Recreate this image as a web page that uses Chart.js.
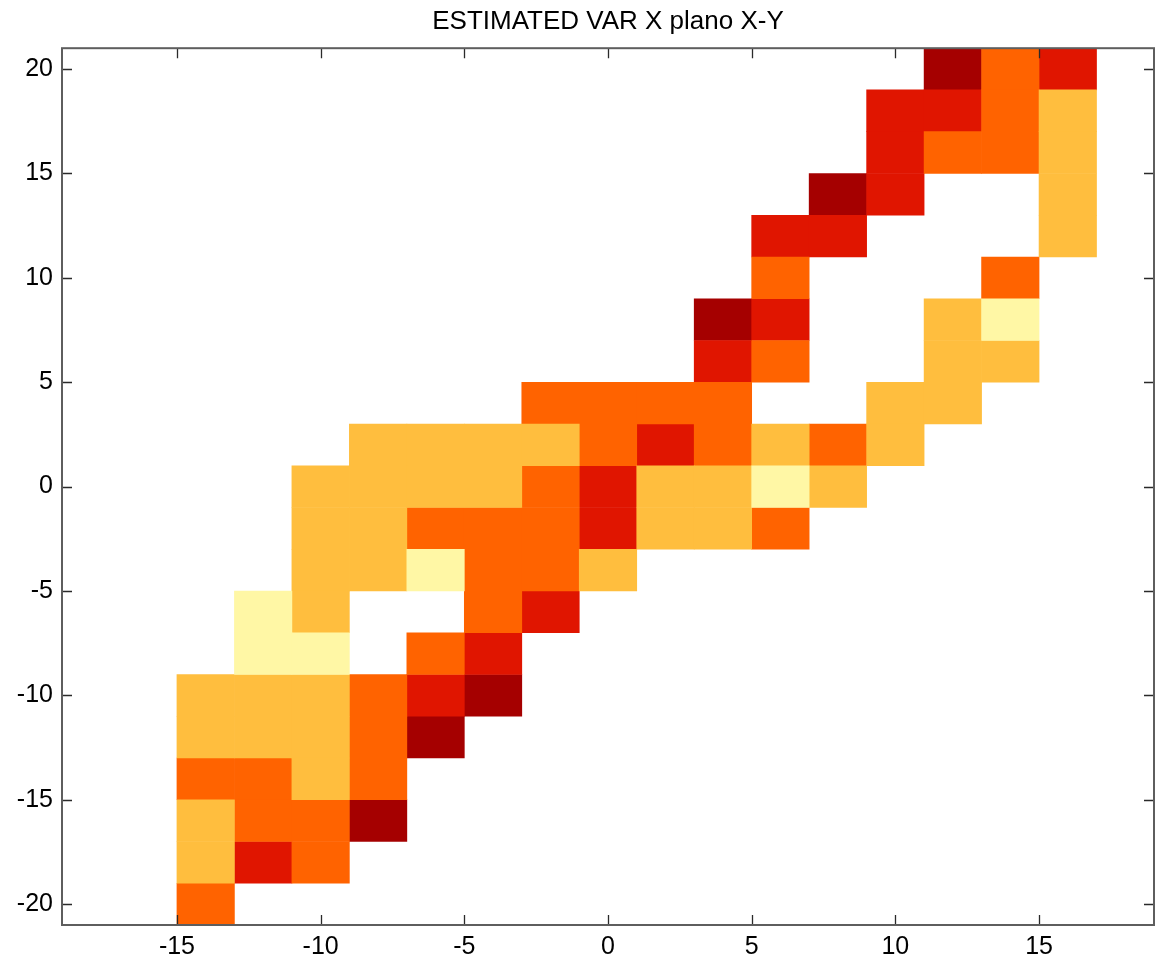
<!DOCTYPE html>
<html>
<head>
<meta charset="utf-8">
<title>ESTIMATED VAR X plano X-Y</title>
<script src="https://cdn.jsdelivr.net/npm/chart.js@4.4.1/dist/chart.umd.min.js"></script>
<style>
  html, body { margin: 0; padding: 0; background: #fff; }
</style>
</head>
<body>
<canvas id="chart" width="1163" height="964"></canvas>
<script>
// cell centres, every cell is 2 x 2 units
const xCenters = [-14, -12, -10, -8, -6, -4, -2, 0, 2, 4, 6, 8, 10, 12, 14, 16];
const yCenters = [20, 18, 16, 14, 12, 10, 8, 6, 4, 2, 0, -2, -4, -6, -8, -10, -12, -14, -16, -18, -20];
const xTicks = [-15, -10, -5, 0, 5, 10, 15];
const yTicks = [-20, -15, -10, -5, 0, 5, 10, 15, 20];

// level of each cell, one row per y centre (top to bottom), 0 = empty
const levels = [
   [0, 0, 0, 0, 0, 0, 0, 0, 0, 0, 0, 0, 0, 5, 3, 4],
   [0, 0, 0, 0, 0, 0, 0, 0, 0, 0, 0, 0, 4, 4, 3, 2],
   [0, 0, 0, 0, 0, 0, 0, 0, 0, 0, 0, 0, 4, 3, 3, 2],
   [0, 0, 0, 0, 0, 0, 0, 0, 0, 0, 0, 5, 4, 0, 0, 2],
   [0, 0, 0, 0, 0, 0, 0, 0, 0, 0, 4, 4, 0, 0, 0, 2],
   [0, 0, 0, 0, 0, 0, 0, 0, 0, 0, 3, 0, 0, 0, 3, 0],
   [0, 0, 0, 0, 0, 0, 0, 0, 0, 5, 4, 0, 0, 2, 1, 0],
   [0, 0, 0, 0, 0, 0, 0, 0, 0, 4, 3, 0, 0, 2, 2, 0],
   [0, 0, 0, 0, 0, 0, 3, 3, 3, 3, 0, 0, 2, 2, 0, 0],
   [0, 0, 0, 2, 2, 2, 2, 3, 4, 3, 2, 3, 2, 0, 0, 0],
   [0, 0, 2, 2, 2, 2, 3, 4, 2, 2, 1, 2, 0, 0, 0, 0],
   [0, 0, 2, 2, 3, 3, 3, 4, 2, 2, 3, 0, 0, 0, 0, 0],
   [0, 0, 2, 2, 1, 3, 3, 2, 0, 0, 0, 0, 0, 0, 0, 0],
   [0, 1, 2, 0, 0, 3, 4, 0, 0, 0, 0, 0, 0, 0, 0, 0],
   [0, 1, 1, 0, 3, 4, 0, 0, 0, 0, 0, 0, 0, 0, 0, 0],
   [2, 2, 2, 3, 4, 5, 0, 0, 0, 0, 0, 0, 0, 0, 0, 0],
   [2, 2, 2, 3, 5, 0, 0, 0, 0, 0, 0, 0, 0, 0, 0, 0],
   [3, 3, 2, 3, 0, 0, 0, 0, 0, 0, 0, 0, 0, 0, 0, 0],
   [2, 3, 3, 5, 0, 0, 0, 0, 0, 0, 0, 0, 0, 0, 0, 0],
   [2, 4, 3, 0, 0, 0, 0, 0, 0, 0, 0, 0, 0, 0, 0, 0],
   [3, 0, 0, 0, 0, 0, 0, 0, 0, 0, 0, 0, 0, 0, 0, 0],
];

const levelColors = ["#FFF7A5", "#FFBE3E", "#FF6300", "#E01500", "#A50000"];
const FONT = "'Liberation Sans', Arial, Helvetica, sans-serif";

// one floating-bar dataset per colour level
function buildDatasets() {
   const sets = [];
   for (let lv = 1; lv <= levelColors.length; lv++) {
      const data = [];
      levels.forEach((row, r) => {
         row.forEach((v, c) => {
            if (v === lv) {
               data.push({ x: xCenters[c], y: [yCenters[r] - 1, yCenters[r] + 1] });
            }
         });
      });
      sets.push({
         label: "level " + lv,
         data: data,
         backgroundColor: levelColors[lv - 1],
         borderWidth: 0,
         barPercentage: 1,
         categoryPercentage: 1,
         grouped: false,
      });
   }
   return sets;
}

// box round the plot and inward tick marks on all four sides
const frameTicks = {
   id: "frameTicks",
   afterDraw(chart) {
      const { ctx, chartArea: a, scales } = chart;
      const len = 10;
      ctx.save();
      ctx.strokeStyle = "#2a2a2a";
      ctx.lineWidth = 1.3;
      ctx.beginPath();
      xTicks.forEach((v) => {
         const px = Math.round(scales.x.getPixelForValue(v)) + 0.5;
         ctx.moveTo(px, a.bottom);
         ctx.lineTo(px, a.bottom - len);
         ctx.moveTo(px, a.top);
         ctx.lineTo(px, a.top + len);
      });
      yTicks.forEach((v) => {
         const py = Math.round(scales.y.getPixelForValue(v)) + 0.5;
         ctx.moveTo(a.left, py);
         ctx.lineTo(a.left + len, py);
         ctx.moveTo(a.right, py);
         ctx.lineTo(a.right - len, py);
      });
      ctx.stroke();
      ctx.strokeStyle = "#5e5e5e";
      ctx.lineWidth = 2;
      ctx.strokeRect(a.left, a.top, a.right - a.left, a.bottom - a.top);
      ctx.restore();
   },
};

const ctx = document.getElementById("chart").getContext("2d");
const chart = new Chart(ctx, {
   type: "bar",
   data: { datasets: buildDatasets() },
   options: {
      responsive: false,
      animation: false,
      layout: { padding: { top: 0, left: 0, right: 9, bottom: 0 } },
      plugins: {
         legend: { display: false },
         tooltip: { enabled: false },
         title: {
            display: true,
            fullSize: false,
            text: "ESTIMATED VAR X plano X-Y",
            color: "#000",
            font: { family: FONT, size: 26, weight: "normal" },
            padding: { top: 6, bottom: 11 },
         },
      },
      scales: {
         x: {
            type: "linear",
            min: -19,
            max: 19,
            offset: false,
            grid: { display: false, drawTicks: false },
            border: { display: false },
            afterBuildTicks: (scale) => {
               scale.ticks = xTicks.map((v) => ({ value: v }));
            },
            afterFit: (scale) => {
               scale.height = 39;
            },
            ticks: {
               color: "#000",
               padding: 7,
               font: { family: FONT, size: 25 },
               callback: (v) => String(v),
            },
         },
         y: {
            type: "linear",
            min: -21,
            max: 21,
            grid: { display: false, drawTicks: false },
            border: { display: false },
            afterBuildTicks: (scale) => {
               scale.ticks = yTicks.map((v) => ({ value: v }));
            },
            afterFit: (scale) => {
               scale.width = 62;
            },
            ticks: {
               color: "#000",
               padding: 9,
               font: { family: FONT, size: 25 },
               callback: (v) => String(v),
            },
         },
      },
   },
   plugins: [frameTicks],
});
</script>
</body>
</html>
